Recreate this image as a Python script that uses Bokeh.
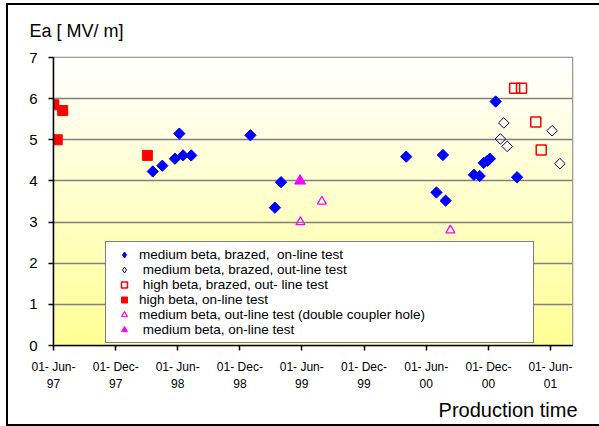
import numpy as np
import pandas as pd
from bokeh.plotting import figure
from bokeh.models import Range1d, FixedTicker, Legend, LegendItem, Title
from bokeh.embed import file_html
from bokeh.resources import INLINE

# ---------------- data ----------------
x_start = "1997-06-01"
x_end = "2001-08-05"

tick_dates = ["1997-06-01", "1997-12-01", "1998-06-01", "1998-12-01", "1999-06-01",
              "1999-12-01", "2000-06-01", "2000-12-01", "2001-06-01"]
tick_labels = ["01- Jun-\n97", "01- Dec-\n97", "01- Jun-\n98", "01- Dec-\n98", "01- Jun-\n99",
               "01- Dec-\n99", "01- Jun-\n00", "01- Dec-\n00", "01- Jun-\n01"]
y_ticks = [0, 1, 2, 3, 4, 5, 6, 7]

# medium beta, brazed, on-line test
mb_on_dates = ["1998-03-20", "1998-04-17", "1998-05-24", "1998-06-06", "1998-06-17", "1998-07-11",
               "1999-01-01", "1999-03-14", "1999-04-01", "2000-04-03", "2000-07-01", "2000-07-20",
               "2000-07-28", "2000-10-19", "2000-11-05", "2000-11-17", "2000-11-28", "2000-12-05",
               "2000-12-22", "2001-02-23"]
mb_on_ea = [4.23, 4.37, 4.54, 5.15, 4.62, 4.62,
            5.11, 3.35, 3.97, 4.59, 3.72, 4.63,
            3.52, 4.15, 4.12, 4.44, 4.49, 4.54,
            5.93, 4.09]

# medium beta, brazed, out-line test
mb_out_dates = ["2001-01-05", "2001-01-15", "2001-01-25", "2001-06-06", "2001-06-29"]
mb_out_ea = [5.02, 5.41, 4.84, 5.22, 4.42]

# high beta, brazed, out-line test
hb_out_dates = ["2001-02-16", "2001-03-08", "2001-04-19", "2001-05-05"]
hb_out_ea = [6.25, 6.25, 5.43, 4.75]

# high beta, on-line test
hb_on_dates = ["1997-06-02", "1997-06-12", "1997-06-28", "1998-03-04"]
hb_on_ea = [5.85, 5.00, 5.71, 4.62]

# medium beta, out-line test (double coupler hole)
mb_dch_dates = ["1999-05-28", "1999-07-30", "2000-08-11"]
mb_dch_ea = [3.0, 3.5, 2.8]

# medium beta, on-line test
mb_on2_dates = ["1999-05-27"]
mb_on2_ea = [4.0]

legend_labels = [
    "medium beta, brazed,  on-line test",
    " medium beta, brazed, out-line test",
    " high beta, brazed, out- line test",
    "high beta, on-line test",
    "medium beta, out-line test (double coupler hole)",
    " medium beta, on-line test",
]

# ---------------- helpers ----------------
def to_ms(dates):
    return [int(pd.Timestamp(d).value // 10**6) for d in dates]

FONT = "Liberation Sans"
x0 = to_ms([x_start])[0]
x1 = to_ms([x_end])[0]

p = figure(width=599, height=426, output_backend="svg", toolbar_location=None,
           x_range=Range1d(x0, x1), y_range=Range1d(0, 7),
           min_border_left=53, min_border_right=27, min_border_top=57, min_border_bottom=81,
           background_fill_color="white", border_fill_color="white", border_fill_alpha=0)

# outer chart frame: left, top and bottom edges (the right edge lies outside the window)
p.styles = {
    "overflow": "hidden",
    "background-color": "white",
    "box-shadow": ("inset 6px 0 0 0 #fff, inset 0 3px 0 0 #fff, "
                   "inset 8px 0 0 0 #000, inset 0 5px 0 0 #000, inset 0 -2px 0 0 #000"),
}

# gradient background of the plot area (white at top -> light yellow at bottom)
n = 300
t = np.linspace(0.0, 1.0, n)  # row 0 = bottom
img = np.empty((n, 1), dtype=np.uint32)
view = img.view(dtype=np.uint8).reshape((n, 1, 4))
view[:, 0, 0] = 255
view[:, 0, 1] = 255
view[:, 0, 2] = (150 + (255 - 150) * t).astype(np.uint8)
view[:, 0, 3] = 255
p.image_rgba(image=[img], x=x0, y=0, dw=x1 - x0, dh=7, level="image")

# grid & frame
p.xgrid.visible = False
p.ygrid.ticker = FixedTicker(ticks=y_ticks)
p.ygrid.grid_line_color = "#808080"
p.ygrid.grid_line_width = 1.5
p.outline_line_color = "#808080"
p.outline_line_width = 1.5

# axes
p.xaxis.ticker = FixedTicker(ticks=to_ms(tick_dates), minor_ticks=[])
p.xaxis.major_label_overrides = {ms: lab for ms, lab in zip(to_ms(tick_dates), tick_labels)}
p.yaxis.ticker = FixedTicker(ticks=y_ticks, minor_ticks=[])
for ax in (p.xaxis[0], p.yaxis[0]):
    ax.axis_line_color = "black"
    ax.axis_line_width = 1.5
    ax.major_tick_line_color = "black"
    ax.major_tick_line_width = 1.5
    ax.major_tick_out = 5
    ax.major_tick_in = 0
    ax.minor_tick_line_color = None
    ax.major_label_text_font = FONT
    ax.major_label_text_color = "black"
p.xaxis.major_label_text_font_size = "12px"
p.xaxis.major_label_text_line_height = 1.25
p.xaxis.major_label_standoff = 9
p.yaxis.major_label_text_font_size = "15px"
p.yaxis.major_label_standoff = 11

# data series
r1 = p.scatter(to_ms(mb_on_dates), mb_on_ea, marker="square", angle=np.pi / 4, size=8,
               fill_color="#0000FF", line_color="#0000FF")
r2 = p.scatter(to_ms(mb_out_dates), mb_out_ea, marker="square", angle=np.pi / 4, size=7.5,
               fill_color=None, line_color="#000080", line_width=1)
r3 = p.scatter(to_ms(hb_out_dates), hb_out_ea, marker="square", size=10,
               fill_color=None, line_color="#FF0000", line_width=1.5)
r4 = p.scatter(to_ms(hb_on_dates), hb_on_ea, marker="square", size=10,
               fill_color="#FF0000", line_color="#FF0000")
r5 = p.scatter(to_ms(mb_dch_dates), mb_dch_ea, marker="triangle", size=9,
               fill_color=None, line_color="#FF00FF", line_width=1.2)
r6 = p.scatter(to_ms(mb_on2_dates), mb_on2_ea, marker="triangle", size=11,
               fill_color="#FF00FF", line_color="#FF00FF")

# legend swatches for the diamond series (the legend draws markers un-rotated)
l1 = p.scatter(to_ms(mb_on_dates), mb_on_ea, marker="diamond", size=10,
               fill_color="#0000FF", line_color="#0000FF", visible=False)
l2 = p.scatter(to_ms(mb_out_dates), mb_out_ea, marker="diamond", size=10,
               fill_color=None, line_color="#000080", visible=False)

legend = Legend(items=[LegendItem(label=lab, renderers=[r])
                       for lab, r in zip(legend_labels, [l1, l2, r3, r4, r5, r6])],
                location=(52, 2), orientation="vertical", margin=0, padding=5, spacing=0,
                glyph_width=26, glyph_height=15, label_height=15, label_width=389,
                label_standoff=2, label_text_font=FONT, label_text_font_size="13.5px",
                label_text_color="black",
                border_line_color="black", border_line_width=1,
                background_fill_color="white", background_fill_alpha=1.0,
                inactive_fill_alpha=0.0, click_policy="none")
p.add_layout(legend)

# axis titles
p.title.text = "Ea [ MV/ m]"
p.title.align = "left"
p.title.offset = -24
p.title.standoff = 33
p.title.text_font = FONT
p.title.text_font_size = "18px"
p.title.text_font_style = "normal"
p.title.text_color = "black"

p.add_layout(Title(text="Production time", align="right", offset=-5, standoff=5,
                   text_font=FONT, text_font_size="20px", text_font_style="normal",
                   text_color="black"), "below")

open("out.html", "w").write(file_html(p, INLINE))
